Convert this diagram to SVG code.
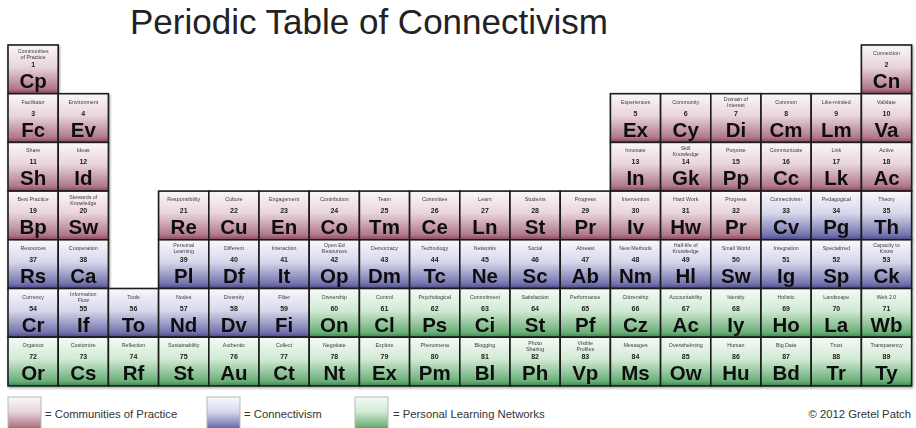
<svg xmlns="http://www.w3.org/2000/svg" width="916" height="428" viewBox="0 0 916 428">
<style>
.c{stroke:#1c1c1c;stroke-width:1.6}
.p{fill:url(#gp)}.b{fill:url(#gb)}.g{fill:url(#gg)}
text{font-family:"Liberation Sans",Arial,sans-serif;text-anchor:middle}
.l{font-size:5.3px;fill:#3a3a3a}
.n{font-size:7px;font-weight:bold;fill:#222}
.s{font-size:20.5px;font-weight:bold;fill:#111}
.t{font-size:35px;fill:#222;text-anchor:start}
.lg{font-size:11.3px;fill:#333;text-anchor:start}
.sw{stroke:#b8b8b8;stroke-width:1}
</style>
<defs>
<linearGradient id="gp" x1="0" y1="0" x2="0" y2="1"><stop offset="0" stop-color="#fbf7f9"/><stop offset="0.45" stop-color="#e9d5dc"/><stop offset="0.9" stop-color="#b07888"/><stop offset="1" stop-color="#874558"/></linearGradient>
<linearGradient id="gb" x1="0" y1="0" x2="0" y2="1"><stop offset="0" stop-color="#f8f8fc"/><stop offset="0.45" stop-color="#d8d8ec"/><stop offset="0.9" stop-color="#7474ae"/><stop offset="1" stop-color="#484888"/></linearGradient>
<linearGradient id="gg" x1="0" y1="0" x2="0" y2="1"><stop offset="0" stop-color="#f5fbf5"/><stop offset="0.45" stop-color="#d2ead5"/><stop offset="0.9" stop-color="#6ab078"/><stop offset="1" stop-color="#3d884e"/></linearGradient>
<filter id="sh" x="-5%" y="-5%" width="110%" height="110%"><feDropShadow dx="1" dy="1.5" stdDeviation="1.2" flood-color="#000" flood-opacity="0.35"/></filter>
</defs>
<rect width="916" height="428" fill="#fff"/>
<text class="t" x="130" y="34">Periodic Table of Connectivism</text>
<g id="table" filter="url(#sh)">
<g id="e1" transform="translate(8,45)"><rect class="c p" width="50.2" height="48.7"/><text class="l" x="25.1" y="7.5">Communities</text><text class="l" x="25.1" y="13.5">of Practice</text><text class="n" x="25.1" y="22">1</text><text class="s" x="25.1" y="43">Cp</text></g>
<g id="e2" transform="translate(861.4,45)"><rect class="c p" width="50.2" height="48.7"/><text class="l" x="25.1" y="10">Connection</text><text class="n" x="25.1" y="22">2</text><text class="s" x="25.1" y="43">Cn</text></g>
<g id="e3" transform="translate(8,93.7)"><rect class="c p" width="50.2" height="48.7"/><text class="l" x="25.1" y="10">Facilitator</text><text class="n" x="25.1" y="22">3</text><text class="s" x="25.1" y="43">Fc</text></g>
<g id="e4" transform="translate(58.2,93.7)"><rect class="c p" width="50.2" height="48.7"/><text class="l" x="25.1" y="10">Environment</text><text class="n" x="25.1" y="22">4</text><text class="s" x="25.1" y="43">Ev</text></g>
<g id="e5" transform="translate(610.4,93.7)"><rect class="c p" width="50.2" height="48.7"/><text class="l" x="25.1" y="10">Experiences</text><text class="n" x="25.1" y="22">5</text><text class="s" x="25.1" y="43">Ex</text></g>
<g id="e6" transform="translate(660.6,93.7)"><rect class="c p" width="50.2" height="48.7"/><text class="l" x="25.1" y="10">Community</text><text class="n" x="25.1" y="22">6</text><text class="s" x="25.1" y="43">Cy</text></g>
<g id="e7" transform="translate(710.8,93.7)"><rect class="c p" width="50.2" height="48.7"/><text class="l" x="25.1" y="7.5">Domain of</text><text class="l" x="25.1" y="13.5">Interest</text><text class="n" x="25.1" y="22">7</text><text class="s" x="25.1" y="43">Di</text></g>
<g id="e8" transform="translate(761,93.7)"><rect class="c p" width="50.2" height="48.7"/><text class="l" x="25.1" y="10">Common</text><text class="n" x="25.1" y="22">8</text><text class="s" x="25.1" y="43">Cm</text></g>
<g id="e9" transform="translate(811.2,93.7)"><rect class="c p" width="50.2" height="48.7"/><text class="l" x="25.1" y="10">Like-minded</text><text class="n" x="25.1" y="22">9</text><text class="s" x="25.1" y="43">Lm</text></g>
<g id="e10" transform="translate(861.4,93.7)"><rect class="c p" width="50.2" height="48.7"/><text class="l" x="25.1" y="10">Validate</text><text class="n" x="25.1" y="22">10</text><text class="s" x="25.1" y="43">Va</text></g>
<g id="e11" transform="translate(8,142.4)"><rect class="c p" width="50.2" height="48.7"/><text class="l" x="25.1" y="10">Share</text><text class="n" x="25.1" y="22">11</text><text class="s" x="25.1" y="43">Sh</text></g>
<g id="e12" transform="translate(58.2,142.4)"><rect class="c p" width="50.2" height="48.7"/><text class="l" x="25.1" y="10">Ideas</text><text class="n" x="25.1" y="22">12</text><text class="s" x="25.1" y="43">Id</text></g>
<g id="e13" transform="translate(610.4,142.4)"><rect class="c p" width="50.2" height="48.7"/><text class="l" x="25.1" y="10">Innovate</text><text class="n" x="25.1" y="22">13</text><text class="s" x="25.1" y="43">In</text></g>
<g id="e14" transform="translate(660.6,142.4)"><rect class="c p" width="50.2" height="48.7"/><text class="l" x="25.1" y="7.5">Skill</text><text class="l" x="25.1" y="13.5">Knowledge</text><text class="n" x="25.1" y="22">14</text><text class="s" x="25.1" y="43">Gk</text></g>
<g id="e15" transform="translate(710.8,142.4)"><rect class="c p" width="50.2" height="48.7"/><text class="l" x="25.1" y="10">Purpose</text><text class="n" x="25.1" y="22">15</text><text class="s" x="25.1" y="43">Pp</text></g>
<g id="e16" transform="translate(761,142.4)"><rect class="c p" width="50.2" height="48.7"/><text class="l" x="25.1" y="10">Communicate</text><text class="n" x="25.1" y="22">16</text><text class="s" x="25.1" y="43">Cc</text></g>
<g id="e17" transform="translate(811.2,142.4)"><rect class="c p" width="50.2" height="48.7"/><text class="l" x="25.1" y="10">Link</text><text class="n" x="25.1" y="22">17</text><text class="s" x="25.1" y="43">Lk</text></g>
<g id="e18" transform="translate(861.4,142.4)"><rect class="c p" width="50.2" height="48.7"/><text class="l" x="25.1" y="10">Active</text><text class="n" x="25.1" y="22">18</text><text class="s" x="25.1" y="43">Ac</text></g>
<g id="e19" transform="translate(8,191.1)"><rect class="c p" width="50.2" height="48.7"/><text class="l" x="25.1" y="10">Best Practice</text><text class="n" x="25.1" y="22">19</text><text class="s" x="25.1" y="43">Bp</text></g>
<g id="e20" transform="translate(58.2,191.1)"><rect class="c p" width="50.2" height="48.7"/><text class="l" x="25.1" y="7.5">Stewards of</text><text class="l" x="25.1" y="13.5">Knowledge</text><text class="n" x="25.1" y="22">20</text><text class="s" x="25.1" y="43">Sw</text></g>
<g id="e21" transform="translate(158.6,191.1)"><rect class="c p" width="50.2" height="48.7"/><text class="l" x="25.1" y="10">Responsibility</text><text class="n" x="25.1" y="22">21</text><text class="s" x="25.1" y="43">Re</text></g>
<g id="e22" transform="translate(208.8,191.1)"><rect class="c p" width="50.2" height="48.7"/><text class="l" x="25.1" y="10">Culture</text><text class="n" x="25.1" y="22">22</text><text class="s" x="25.1" y="43">Cu</text></g>
<g id="e23" transform="translate(259,191.1)"><rect class="c p" width="50.2" height="48.7"/><text class="l" x="25.1" y="10">Engagement</text><text class="n" x="25.1" y="22">23</text><text class="s" x="25.1" y="43">En</text></g>
<g id="e24" transform="translate(309.2,191.1)"><rect class="c p" width="50.2" height="48.7"/><text class="l" x="25.1" y="10">Contribution</text><text class="n" x="25.1" y="22">24</text><text class="s" x="25.1" y="43">Co</text></g>
<g id="e25" transform="translate(359.4,191.1)"><rect class="c p" width="50.2" height="48.7"/><text class="l" x="25.1" y="10">Team</text><text class="n" x="25.1" y="22">25</text><text class="s" x="25.1" y="43">Tm</text></g>
<g id="e26" transform="translate(409.6,191.1)"><rect class="c p" width="50.2" height="48.7"/><text class="l" x="25.1" y="10">Committee</text><text class="n" x="25.1" y="22">26</text><text class="s" x="25.1" y="43">Ce</text></g>
<g id="e27" transform="translate(459.8,191.1)"><rect class="c p" width="50.2" height="48.7"/><text class="l" x="25.1" y="10">Learn</text><text class="n" x="25.1" y="22">27</text><text class="s" x="25.1" y="43">Ln</text></g>
<g id="e28" transform="translate(510,191.1)"><rect class="c p" width="50.2" height="48.7"/><text class="l" x="25.1" y="10">Students</text><text class="n" x="25.1" y="22">28</text><text class="s" x="25.1" y="43">St</text></g>
<g id="e29" transform="translate(560.2,191.1)"><rect class="c p" width="50.2" height="48.7"/><text class="l" x="25.1" y="10">Progress</text><text class="n" x="25.1" y="22">29</text><text class="s" x="25.1" y="43">Pr</text></g>
<g id="e30" transform="translate(610.4,191.1)"><rect class="c p" width="50.2" height="48.7"/><text class="l" x="25.1" y="10">Intervention</text><text class="n" x="25.1" y="22">30</text><text class="s" x="25.1" y="43">Iv</text></g>
<g id="e31" transform="translate(660.6,191.1)"><rect class="c p" width="50.2" height="48.7"/><text class="l" x="25.1" y="10">Hard Work</text><text class="n" x="25.1" y="22">31</text><text class="s" x="25.1" y="43">Hw</text></g>
<g id="e32" transform="translate(710.8,191.1)"><rect class="c p" width="50.2" height="48.7"/><text class="l" x="25.1" y="10">Progress</text><text class="n" x="25.1" y="22">32</text><text class="s" x="25.1" y="43">Pr</text></g>
<g id="e33" transform="translate(761,191.1)"><rect class="c b" width="50.2" height="48.7"/><text class="l" x="25.1" y="10">Connectivism</text><text class="n" x="25.1" y="22">33</text><text class="s" x="25.1" y="43">Cv</text></g>
<g id="e34" transform="translate(811.2,191.1)"><rect class="c b" width="50.2" height="48.7"/><text class="l" x="25.1" y="10">Pedagogical</text><text class="n" x="25.1" y="22">34</text><text class="s" x="25.1" y="43">Pg</text></g>
<g id="e35" transform="translate(861.4,191.1)"><rect class="c b" width="50.2" height="48.7"/><text class="l" x="25.1" y="10">Theory</text><text class="n" x="25.1" y="22">35</text><text class="s" x="25.1" y="43">Th</text></g>
<g id="e37" transform="translate(8,239.8)"><rect class="c b" width="50.2" height="48.7"/><text class="l" x="25.1" y="10">Resources</text><text class="n" x="25.1" y="22">37</text><text class="s" x="25.1" y="43">Rs</text></g>
<g id="e38" transform="translate(58.2,239.8)"><rect class="c b" width="50.2" height="48.7"/><text class="l" x="25.1" y="10">Cooperation</text><text class="n" x="25.1" y="22">38</text><text class="s" x="25.1" y="43">Ca</text></g>
<g id="e39" transform="translate(158.6,239.8)"><rect class="c b" width="50.2" height="48.7"/><text class="l" x="25.1" y="7.5">Personal</text><text class="l" x="25.1" y="13.5">Learning</text><text class="n" x="25.1" y="22">39</text><text class="s" x="25.1" y="43">Pl</text></g>
<g id="e40" transform="translate(208.8,239.8)"><rect class="c b" width="50.2" height="48.7"/><text class="l" x="25.1" y="10">Different</text><text class="n" x="25.1" y="22">40</text><text class="s" x="25.1" y="43">Df</text></g>
<g id="e41" transform="translate(259,239.8)"><rect class="c b" width="50.2" height="48.7"/><text class="l" x="25.1" y="10">Interaction</text><text class="n" x="25.1" y="22">41</text><text class="s" x="25.1" y="43">It</text></g>
<g id="e42" transform="translate(309.2,239.8)"><rect class="c b" width="50.2" height="48.7"/><text class="l" x="25.1" y="7.5">Open Ed</text><text class="l" x="25.1" y="13.5">Resources</text><text class="n" x="25.1" y="22">42</text><text class="s" x="25.1" y="43">Op</text></g>
<g id="e43" transform="translate(359.4,239.8)"><rect class="c b" width="50.2" height="48.7"/><text class="l" x="25.1" y="10">Democracy</text><text class="n" x="25.1" y="22">43</text><text class="s" x="25.1" y="43">Dm</text></g>
<g id="e44" transform="translate(409.6,239.8)"><rect class="c b" width="50.2" height="48.7"/><text class="l" x="25.1" y="10">Technology</text><text class="n" x="25.1" y="22">44</text><text class="s" x="25.1" y="43">Tc</text></g>
<g id="e45" transform="translate(459.8,239.8)"><rect class="c b" width="50.2" height="48.7"/><text class="l" x="25.1" y="10">Networks</text><text class="n" x="25.1" y="22">45</text><text class="s" x="25.1" y="43">Ne</text></g>
<g id="e46" transform="translate(510,239.8)"><rect class="c b" width="50.2" height="48.7"/><text class="l" x="25.1" y="10">Social</text><text class="n" x="25.1" y="22">46</text><text class="s" x="25.1" y="43">Sc</text></g>
<g id="e47" transform="translate(560.2,239.8)"><rect class="c b" width="50.2" height="48.7"/><text class="l" x="25.1" y="10">Abreast</text><text class="n" x="25.1" y="22">47</text><text class="s" x="25.1" y="43">Ab</text></g>
<g id="e48" transform="translate(610.4,239.8)"><rect class="c b" width="50.2" height="48.7"/><text class="l" x="25.1" y="10">New Methods</text><text class="n" x="25.1" y="22">48</text><text class="s" x="25.1" y="43">Nm</text></g>
<g id="e49" transform="translate(660.6,239.8)"><rect class="c b" width="50.2" height="48.7"/><text class="l" x="25.1" y="7.5">Half-life of</text><text class="l" x="25.1" y="13.5">Knowledge</text><text class="n" x="25.1" y="22">49</text><text class="s" x="25.1" y="43">Hl</text></g>
<g id="e50" transform="translate(710.8,239.8)"><rect class="c b" width="50.2" height="48.7"/><text class="l" x="25.1" y="10">Small World</text><text class="n" x="25.1" y="22">50</text><text class="s" x="25.1" y="43">Sw</text></g>
<g id="e51" transform="translate(761,239.8)"><rect class="c b" width="50.2" height="48.7"/><text class="l" x="25.1" y="10">Integration</text><text class="n" x="25.1" y="22">51</text><text class="s" x="25.1" y="43">Ig</text></g>
<g id="e52" transform="translate(811.2,239.8)"><rect class="c b" width="50.2" height="48.7"/><text class="l" x="25.1" y="10">Specialized</text><text class="n" x="25.1" y="22">52</text><text class="s" x="25.1" y="43">Sp</text></g>
<g id="e53" transform="translate(861.4,239.8)"><rect class="c b" width="50.2" height="48.7"/><text class="l" x="25.1" y="7.5">Capacity to</text><text class="l" x="25.1" y="13.5">Know</text><text class="n" x="25.1" y="22">53</text><text class="s" x="25.1" y="43">Ck</text></g>
<g id="e54" transform="translate(8,288.5)"><rect class="c b" width="50.2" height="48.7"/><text class="l" x="25.1" y="10">Currency</text><text class="n" x="25.1" y="22">54</text><text class="s" x="25.1" y="43">Cr</text></g>
<g id="e55" transform="translate(58.2,288.5)"><rect class="c b" width="50.2" height="48.7"/><text class="l" x="25.1" y="7.5">Information</text><text class="l" x="25.1" y="13.5">Flow</text><text class="n" x="25.1" y="22">55</text><text class="s" x="25.1" y="43">If</text></g>
<g id="e56" transform="translate(108.4,288.5)"><rect class="c b" width="50.2" height="48.7"/><text class="l" x="25.1" y="10">Tools</text><text class="n" x="25.1" y="22">56</text><text class="s" x="25.1" y="43">To</text></g>
<g id="e57" transform="translate(158.6,288.5)"><rect class="c b" width="50.2" height="48.7"/><text class="l" x="25.1" y="10">Nodes</text><text class="n" x="25.1" y="22">57</text><text class="s" x="25.1" y="43">Nd</text></g>
<g id="e58" transform="translate(208.8,288.5)"><rect class="c b" width="50.2" height="48.7"/><text class="l" x="25.1" y="10">Diversity</text><text class="n" x="25.1" y="22">58</text><text class="s" x="25.1" y="43">Dv</text></g>
<g id="e59" transform="translate(259,288.5)"><rect class="c b" width="50.2" height="48.7"/><text class="l" x="25.1" y="10">Filter</text><text class="n" x="25.1" y="22">59</text><text class="s" x="25.1" y="43">Fi</text></g>
<g id="e60" transform="translate(309.2,288.5)"><rect class="c g" width="50.2" height="48.7"/><text class="l" x="25.1" y="10">Ownership</text><text class="n" x="25.1" y="22">60</text><text class="s" x="25.1" y="43">On</text></g>
<g id="e61" transform="translate(359.4,288.5)"><rect class="c g" width="50.2" height="48.7"/><text class="l" x="25.1" y="10">Control</text><text class="n" x="25.1" y="22">61</text><text class="s" x="25.1" y="43">Cl</text></g>
<g id="e62" transform="translate(409.6,288.5)"><rect class="c g" width="50.2" height="48.7"/><text class="l" x="25.1" y="10">Psychological</text><text class="n" x="25.1" y="22">62</text><text class="s" x="25.1" y="43">Ps</text></g>
<g id="e63" transform="translate(459.8,288.5)"><rect class="c g" width="50.2" height="48.7"/><text class="l" x="25.1" y="10">Commitment</text><text class="n" x="25.1" y="22">63</text><text class="s" x="25.1" y="43">Ci</text></g>
<g id="e64" transform="translate(510,288.5)"><rect class="c g" width="50.2" height="48.7"/><text class="l" x="25.1" y="10">Satisfaction</text><text class="n" x="25.1" y="22">64</text><text class="s" x="25.1" y="43">St</text></g>
<g id="e65" transform="translate(560.2,288.5)"><rect class="c g" width="50.2" height="48.7"/><text class="l" x="25.1" y="10">Performance</text><text class="n" x="25.1" y="22">65</text><text class="s" x="25.1" y="43">Pf</text></g>
<g id="e66" transform="translate(610.4,288.5)"><rect class="c g" width="50.2" height="48.7"/><text class="l" x="25.1" y="10">Citizenship</text><text class="n" x="25.1" y="22">66</text><text class="s" x="25.1" y="43">Cz</text></g>
<g id="e67" transform="translate(660.6,288.5)"><rect class="c g" width="50.2" height="48.7"/><text class="l" x="25.1" y="10">Accountability</text><text class="n" x="25.1" y="22">67</text><text class="s" x="25.1" y="43">Ac</text></g>
<g id="e68" transform="translate(710.8,288.5)"><rect class="c g" width="50.2" height="48.7"/><text class="l" x="25.1" y="10">Identity</text><text class="n" x="25.1" y="22">68</text><text class="s" x="25.1" y="43">Iy</text></g>
<g id="e69" transform="translate(761,288.5)"><rect class="c g" width="50.2" height="48.7"/><text class="l" x="25.1" y="10">Holistic</text><text class="n" x="25.1" y="22">69</text><text class="s" x="25.1" y="43">Ho</text></g>
<g id="e70" transform="translate(811.2,288.5)"><rect class="c g" width="50.2" height="48.7"/><text class="l" x="25.1" y="10">Landscape</text><text class="n" x="25.1" y="22">70</text><text class="s" x="25.1" y="43">La</text></g>
<g id="e71" transform="translate(861.4,288.5)"><rect class="c g" width="50.2" height="48.7"/><text class="l" x="25.1" y="10">Web 2.0</text><text class="n" x="25.1" y="22">71</text><text class="s" x="25.1" y="43">Wb</text></g>
<g id="e72" transform="translate(8,337.2)"><rect class="c g" width="50.2" height="48.7"/><text class="l" x="25.1" y="10">Organics</text><text class="n" x="25.1" y="22">72</text><text class="s" x="25.1" y="43">Or</text></g>
<g id="e73" transform="translate(58.2,337.2)"><rect class="c g" width="50.2" height="48.7"/><text class="l" x="25.1" y="10">Customize</text><text class="n" x="25.1" y="22">73</text><text class="s" x="25.1" y="43">Cs</text></g>
<g id="e74" transform="translate(108.4,337.2)"><rect class="c g" width="50.2" height="48.7"/><text class="l" x="25.1" y="10">Reflection</text><text class="n" x="25.1" y="22">74</text><text class="s" x="25.1" y="43">Rf</text></g>
<g id="e75" transform="translate(158.6,337.2)"><rect class="c g" width="50.2" height="48.7"/><text class="l" x="25.1" y="10">Sustainability</text><text class="n" x="25.1" y="22">75</text><text class="s" x="25.1" y="43">St</text></g>
<g id="e76" transform="translate(208.8,337.2)"><rect class="c g" width="50.2" height="48.7"/><text class="l" x="25.1" y="10">Authentic</text><text class="n" x="25.1" y="22">76</text><text class="s" x="25.1" y="43">Au</text></g>
<g id="e77" transform="translate(259,337.2)"><rect class="c g" width="50.2" height="48.7"/><text class="l" x="25.1" y="10">Collect</text><text class="n" x="25.1" y="22">77</text><text class="s" x="25.1" y="43">Ct</text></g>
<g id="e78" transform="translate(309.2,337.2)"><rect class="c g" width="50.2" height="48.7"/><text class="l" x="25.1" y="10">Negotiate</text><text class="n" x="25.1" y="22">78</text><text class="s" x="25.1" y="43">Nt</text></g>
<g id="e79" transform="translate(359.4,337.2)"><rect class="c g" width="50.2" height="48.7"/><text class="l" x="25.1" y="10">Explore</text><text class="n" x="25.1" y="22">79</text><text class="s" x="25.1" y="43">Ex</text></g>
<g id="e80" transform="translate(409.6,337.2)"><rect class="c g" width="50.2" height="48.7"/><text class="l" x="25.1" y="10">Phenomena</text><text class="n" x="25.1" y="22">80</text><text class="s" x="25.1" y="43">Pm</text></g>
<g id="e81" transform="translate(459.8,337.2)"><rect class="c g" width="50.2" height="48.7"/><text class="l" x="25.1" y="10">Blogging</text><text class="n" x="25.1" y="22">81</text><text class="s" x="25.1" y="43">Bl</text></g>
<g id="e82" transform="translate(510,337.2)"><rect class="c g" width="50.2" height="48.7"/><text class="l" x="25.1" y="7.5">Photo</text><text class="l" x="25.1" y="13.5">Sharing</text><text class="n" x="25.1" y="22">82</text><text class="s" x="25.1" y="43">Ph</text></g>
<g id="e83" transform="translate(560.2,337.2)"><rect class="c g" width="50.2" height="48.7"/><text class="l" x="25.1" y="7.5">Visible</text><text class="l" x="25.1" y="13.5">Profiles</text><text class="n" x="25.1" y="22">83</text><text class="s" x="25.1" y="43">Vp</text></g>
<g id="e84" transform="translate(610.4,337.2)"><rect class="c g" width="50.2" height="48.7"/><text class="l" x="25.1" y="10">Messages</text><text class="n" x="25.1" y="22">84</text><text class="s" x="25.1" y="43">Ms</text></g>
<g id="e85" transform="translate(660.6,337.2)"><rect class="c g" width="50.2" height="48.7"/><text class="l" x="25.1" y="10">Overwhelming</text><text class="n" x="25.1" y="22">85</text><text class="s" x="25.1" y="43">Ow</text></g>
<g id="e86" transform="translate(710.8,337.2)"><rect class="c g" width="50.2" height="48.7"/><text class="l" x="25.1" y="10">Human</text><text class="n" x="25.1" y="22">86</text><text class="s" x="25.1" y="43">Hu</text></g>
<g id="e87" transform="translate(761,337.2)"><rect class="c g" width="50.2" height="48.7"/><text class="l" x="25.1" y="10">Big Data</text><text class="n" x="25.1" y="22">87</text><text class="s" x="25.1" y="43">Bd</text></g>
<g id="e88" transform="translate(811.2,337.2)"><rect class="c g" width="50.2" height="48.7"/><text class="l" x="25.1" y="10">Trust</text><text class="n" x="25.1" y="22">88</text><text class="s" x="25.1" y="43">Tr</text></g>
<g id="e89" transform="translate(861.4,337.2)"><rect class="c g" width="50.2" height="48.7"/><text class="l" x="25.1" y="10">Transparency</text><text class="n" x="25.1" y="22">89</text><text class="s" x="25.1" y="43">Ty</text></g>
</g>
<g id="connectors"/>
<g id="legend">
<rect class="sw" x="8" y="397" width="33" height="33" fill="url(#gp)"/>
<text class="lg" x="45" y="418">= Communities of Practice</text>
<rect class="sw" x="207" y="397" width="33" height="33" fill="url(#gb)"/>
<text class="lg" x="244" y="418">= Connectivism</text>
<rect class="sw" x="355" y="397" width="33" height="33" fill="url(#gg)"/>
<text class="lg" x="393" y="418">= Personal Learning Networks</text>
<text class="lg" x="911" y="418" style="text-anchor:end">© 2012 Gretel Patch</text>
</g>
</svg>
